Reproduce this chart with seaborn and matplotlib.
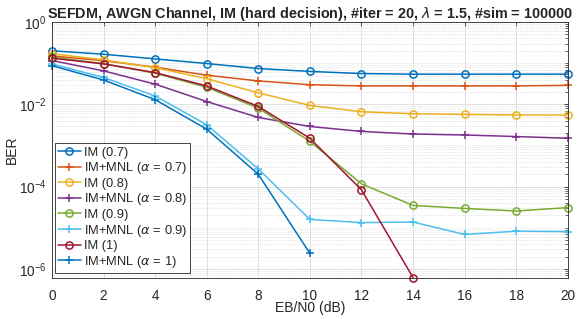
import numpy as np
import pandas as pd
import matplotlib
matplotlib.use("Agg")
import matplotlib.pyplot as plt
import seaborn as sns
from matplotlib.ticker import LogLocator, NullFormatter, FixedLocator

snr = [0, 2, 4, 6, 8, 10, 12, 14, 16, 18, 20]

im_07 = [0.20, 0.165, 0.127, 0.098, 0.074, 0.063, 0.056, 0.054, 0.054, 0.054, 0.054]
mnl_07 = [0.15, 0.115, 0.080, 0.051, 0.037, 0.030, 0.028, 0.028, 0.028, 0.028, 0.029]
im_08 = [0.17, 0.12, 0.078, 0.042, 0.019, 0.0094, 0.0066, 0.0059, 0.0057, 0.0055, 0.0055]
mnl_08 = [0.116, 0.065, 0.031, 0.0117, 0.0048, 0.0029, 0.0022, 0.0019, 0.0018, 0.00165, 0.0015]
im_09 = [0.14, 0.098, 0.057, 0.026, 0.0081, 0.00126, 1.17e-4, 3.5e-5, 2.96e-5, 2.56e-5, 3.1e-5]
mnl_09 = [0.096, 0.045, 0.016, 0.0032, 2.7e-4, 1.6e-5, 1.34e-5, 1.38e-5, 6.9e-6, 8.3e-6, 8.1e-6]
im_10 = [0.132, 0.096, 0.059, 0.028, 0.0089, 0.0015, 8.4e-5, 6.2e-7]
mnl_10 = [0.087, 0.039, 0.013, 0.0025, 2.0e-4, 2.4e-6]

labels = ["IM (0.7)", r"IM+MNL ($\alpha$ = 0.7)", "IM (0.8)", r"IM+MNL ($\alpha$ = 0.8)",
          "IM (0.9)", r"IM+MNL ($\alpha$ = 0.9)", "IM (1)", r"IM+MNL ($\alpha$ = 1)"]
series = [im_07, mnl_07, im_08, mnl_08, im_09, mnl_09, im_10, mnl_10]
colors = ["#0072BD", "#D95319", "#EDB120", "#7E2F8E", "#77AC30", "#4DBEEE", "#A2142F", "#0072BD"]
markers = ["o", "+", "o", "+", "o", "+", "o", "+"]

sns.set_style("white")
plt.rcParams['font.family'] = ['Liberation Sans', 'DejaVu Sans']
plt.rcParams['mathtext.fontset'] = 'dejavusans'

fig = plt.figure(figsize=(5.77, 3.19), dpi=100)
ax = fig.add_axes([0.090, 0.130, 0.894, 0.801])

for lab, vals, c, m in zip(labels, series, colors, markers):
    df = pd.DataFrame({"snr": snr[:len(vals)], "ber": vals})
    sns.lineplot(data=df, x="snr", y="ber", ax=ax, color=c, marker=m, label=lab,
                 markersize=5.2 if m == "o" else 6, markerfacecolor="none",
                 markeredgecolor=c, markeredgewidth=1.1, linewidth=1.1, clip_on=False)

ax.set_yscale("log")
ax.set_xlim(0, 20)
ax.set_ylim(6.2e-7, 1)
ax.set_xticks(snr)
ax.yaxis.set_major_locator(FixedLocator([1e-6, 1e-4, 1e-2, 1e0]))
ax.yaxis.set_minor_locator(LogLocator(base=10, subs=np.arange(1, 10), numticks=100))
ax.yaxis.set_minor_formatter(NullFormatter())

ax.grid(True, which="major", color="#dcdcdc", linewidth=0.6, linestyle="-")
ax.grid(True, which="minor", axis="y", color="#d0d0d0", linewidth=0.5, linestyle=":")
ax.set_axisbelow(True)

ax.tick_params(axis="both", which="both", direction="in", labelsize=9.8, colors="#262626",
               top=True, right=True)
ax.tick_params(axis="both", which="major", length=3, width=0.6)
ax.tick_params(axis="x", which="major", pad=8)
ax.tick_params(axis="y", which="major", pad=4)
ax.tick_params(axis="y", which="minor", length=2, width=0.5)
for s in ax.spines.values():
    s.set_color("#262626")
    s.set_linewidth(0.6)

ax.set_xlabel("EB/N0 (dB)", fontsize=10, color="#262626", labelpad=-1)
ax.set_ylabel("BER", fontsize=10, color="#262626", labelpad=0)
ax.set_title(r"SEFDM, AWGN Channel, IM (hard decision), #iter = 20, $\lambda$ = 1.5, #sim = 100000",
             fontsize=10.4, fontweight="bold", pad=3)

leg = ax.legend(loc="lower left", bbox_to_anchor=(0.005, 0.018), fontsize=9.3,
                frameon=True, fancybox=False, edgecolor="#262626", framealpha=1,
                borderpad=0.25, labelspacing=0.12, handlelength=1.8, handletextpad=0.2,
                borderaxespad=0)
leg.get_frame().set_linewidth(0.6)

fig.savefig("out.png", dpi=100)
